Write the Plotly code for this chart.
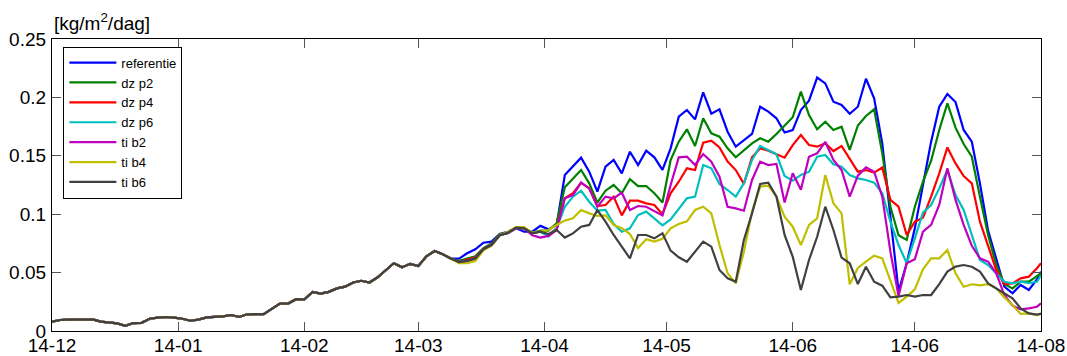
import plotly.graph_objects as go

# ---- x grid (days since 1 Dec) ----
common_days = [0, 2, 4, 6, 8, 10, 12, 14, 16, 18, 20, 22, 24, 26, 28, 30, 32, 34, 36, 38,
               40, 42, 44, 46, 48, 50, 52, 54, 56, 58, 60, 62, 64, 66, 68, 70, 72, 74, 76, 78,
               80, 82, 84, 86, 88, 90, 92, 94, 96, 98]
common = [0.008, 0.0094, 0.0098, 0.010, 0.010, 0.010, 0.008, 0.0075, 0.0065, 0.0045,
          0.0068, 0.0070, 0.0105, 0.0115, 0.012, 0.0115, 0.0105, 0.0088, 0.0098, 0.0117,
          0.012, 0.0125, 0.0137, 0.012, 0.0143, 0.0143, 0.0145, 0.019, 0.0235, 0.0235,
          0.0272, 0.027, 0.0335, 0.032, 0.0335, 0.0365, 0.038, 0.0415, 0.043, 0.0415,
          0.046, 0.052, 0.058, 0.0545, 0.0575, 0.0556, 0.064, 0.0685, 0.0657, 0.062]

days = [100, 102, 104, 106, 108, 110, 112, 114, 116, 118, 120, 122, 124, 126, 128, 130,
        132, 134, 136, 138, 140, 142, 144, 146, 148, 150, 152, 154, 156, 158, 160, 162,
        164, 166, 168, 170, 172, 174, 176, 178, 180, 182, 184, 186, 188, 190, 192, 194,
        196, 198, 200, 202, 204, 206, 208, 210, 212, 214, 216, 218, 220, 222, 224, 226,
        228, 230, 232, 234, 236, 238, 240, 242, 243]

referentie = [0.062, 0.0665, 0.070, 0.0756, 0.0765, 0.083, 0.085, 0.088, 0.085, 0.085, 0.090, 0.087,
              0.0907, 0.1336, 0.1407, 0.1484, 0.1364, 0.1193, 0.1407, 0.1464, 0.135, 0.1535,
              0.1421, 0.1544, 0.1487, 0.138, 0.1564, 0.1835, 0.1892, 0.1812, 0.2043, 0.186,
              0.1898, 0.1706, 0.1578, 0.1635, 0.1687, 0.192, 0.1878, 0.1821, 0.170, 0.172,
              0.1892, 0.1972, 0.217, 0.212, 0.1963, 0.1935, 0.186, 0.192, 0.216, 0.1992,
              0.1607, 0.0979, 0.034, 0.058, 0.0879, 0.125, 0.1621, 0.192, 0.203, 0.196,
              0.1721, 0.1621, 0.1264, 0.0859, 0.0608, 0.0379, 0.0323, 0.0394, 0.0351, 0.0442, 0.0508]
dz_p2 = [0.060, 0.062, 0.064, 0.071, 0.075, 0.083, 0.084, 0.088, 0.088, 0.084, 0.086, 0.0859,
         0.0922, 0.123, 0.130, 0.1378, 0.1264, 0.1099, 0.1201, 0.125, 0.118, 0.130,
         0.1241, 0.1241, 0.1179, 0.110, 0.1464, 0.1621, 0.1727, 0.1584, 0.1821, 0.1693,
         0.1664, 0.1564, 0.1487, 0.155, 0.1607, 0.165, 0.1621, 0.1687, 0.1758, 0.183,
         0.205, 0.1849, 0.1727, 0.1792, 0.1721, 0.1749, 0.155, 0.176, 0.1841, 0.1898,
         0.1521, 0.1064, 0.082, 0.078, 0.1064, 0.1278, 0.1458, 0.1721, 0.195, 0.1741,
         0.1601, 0.1492, 0.115, 0.0822, 0.0565, 0.0402, 0.0365, 0.0422, 0.0422, 0.0465, 0.0494]
dz_p4 = [0.059, 0.061, 0.063, 0.070, 0.074, 0.082, 0.084, 0.088, 0.088, 0.084, 0.085, 0.082,
         0.0879, 0.1136, 0.1179, 0.127, 0.1221, 0.107, 0.1079, 0.115, 0.099, 0.1116,
         0.1116, 0.1093, 0.1079, 0.100, 0.1179, 0.1278, 0.1393, 0.1378, 0.1612, 0.163,
         0.1572, 0.145, 0.1378, 0.126, 0.1487, 0.1564, 0.1544, 0.1513, 0.1484, 0.1592,
         0.1678, 0.1592, 0.1578, 0.1607, 0.1541, 0.1584, 0.147, 0.1364, 0.1378, 0.1356,
         0.140, 0.1122, 0.1064, 0.0822, 0.0936, 0.097, 0.115, 0.135, 0.1572, 0.1435,
         0.1327, 0.1264, 0.0936, 0.0722, 0.0522, 0.0402, 0.0408, 0.0451, 0.0465, 0.0537, 0.058]
dz_p6 = [0.059, 0.060, 0.062, 0.070, 0.0736, 0.082, 0.084, 0.088, 0.088, 0.084, 0.085, 0.081,
         0.0879, 0.1064, 0.115, 0.1201, 0.1107, 0.103, 0.1036, 0.0916, 0.085, 0.0879,
         0.0993, 0.1022, 0.0965, 0.0905, 0.0956, 0.105, 0.1136, 0.115, 0.1421, 0.1393,
         0.1259, 0.1207, 0.115, 0.1264, 0.1464, 0.1584, 0.155, 0.1513, 0.1327, 0.1287,
         0.1336, 0.1364, 0.1492, 0.1507, 0.1427, 0.1407, 0.1336, 0.1307, 0.1293, 0.127,
         0.1179, 0.0936, 0.0736, 0.058, 0.0793, 0.1013, 0.1079, 0.1221, 0.1378, 0.1164,
         0.1036, 0.082, 0.0608, 0.0565, 0.0494, 0.0422, 0.0408, 0.0422, 0.041, 0.0422, 0.0479]
ti_b2 = [0.059, 0.060, 0.062, 0.070, 0.0736, 0.082, 0.084, 0.088, 0.088, 0.082, 0.080, 0.0814,
         0.0865, 0.1136, 0.1164, 0.127, 0.1221, 0.1064, 0.115, 0.1136, 0.1184, 0.1036,
         0.107, 0.1064, 0.103, 0.099, 0.125, 0.1487, 0.1492, 0.1421, 0.1515, 0.145,
         0.1321, 0.1064, 0.105, 0.103, 0.1293, 0.145, 0.1421, 0.143, 0.110, 0.135,
         0.121, 0.1492, 0.1521, 0.162, 0.1464, 0.1378, 0.115, 0.133, 0.1401, 0.1364,
         0.115, 0.0679, 0.030, 0.058, 0.0614, 0.085, 0.0908, 0.1079, 0.1393, 0.1122,
         0.0908, 0.073, 0.0622, 0.0593, 0.0494, 0.0308, 0.0217, 0.0186, 0.0194, 0.0208, 0.0237]
ti_b4 = [0.058, 0.058, 0.060, 0.069, 0.073, 0.082, 0.085, 0.089, 0.089, 0.084, 0.085, 0.0865,
         0.0908, 0.0945, 0.0965, 0.1036, 0.1007, 0.0985, 0.099, 0.0908, 0.088, 0.083,
         0.071, 0.0785, 0.0765, 0.079, 0.0879, 0.0916, 0.0939, 0.1036, 0.1064, 0.1007,
         0.0736, 0.0494, 0.0408, 0.0679, 0.1022, 0.1236, 0.1244, 0.115, 0.0979, 0.0893,
         0.0736, 0.0908, 0.0965, 0.1336, 0.1093, 0.1007, 0.040, 0.054, 0.0593, 0.0645,
         0.0622, 0.0422, 0.024, 0.0294, 0.0357, 0.0528, 0.0622, 0.0622, 0.0693, 0.0494,
         0.0379, 0.040, 0.039, 0.0402, 0.0365, 0.0288, 0.0223, 0.0146, 0.0151, 0.0137, 0.0151]
ti_b6 = [0.059, 0.060, 0.062, 0.070, 0.0736, 0.082, 0.084, 0.0885, 0.088, 0.0836, 0.085, 0.083,
         0.0865, 0.080, 0.0836, 0.0893, 0.0908, 0.1036, 0.0936, 0.0822, 0.0722, 0.0622,
         0.0822, 0.0822, 0.0793, 0.0836, 0.0688, 0.0631, 0.0593, 0.0679, 0.0765, 0.0722,
         0.0522, 0.0451, 0.0422, 0.078, 0.1007, 0.1259, 0.127, 0.115, 0.0822, 0.0636,
         0.0351, 0.0608, 0.0807, 0.1064, 0.0865, 0.0628, 0.058, 0.0402, 0.055, 0.0422,
         0.0388, 0.0288, 0.0294, 0.0308, 0.0294, 0.0308, 0.0308, 0.0402, 0.0508, 0.0551,
         0.0565, 0.055, 0.0508, 0.0408, 0.0365, 0.0328, 0.028, 0.0194, 0.0151, 0.014, 0.0146]

series_names = ["referentie", "dz p2", "dz p4", "dz p6", "ti b2", "ti b4", "ti b6"]
series_values = [referentie, dz_p2, dz_p4, dz_p6, ti_b2, ti_b4, ti_b6]
series_colors = ["#0000FF", "#008000", "#FF0000", "#00BFBF", "#BF00BF", "#BFBF00", "#404040"]

x_tickvals = [0, 31, 62, 90, 121, 151, 182, 212, 243]
x_ticktext = ["14-12", "14-01", "14-02", "14-03", "14-04", "14-05", "14-06", "14-06", "14-08"]
y_tickvals = [0, 0.05, 0.1, 0.15, 0.2, 0.25]
y_ticktext = ["0", "0.05", "0.1", "0.15", "0.2", "0.25"]

FONT = "Liberation Sans, Arial, sans-serif"

fig = go.Figure()
for name, vals, col in zip(series_names, series_values, series_colors):
    fig.add_trace(go.Scatter(
        x=common_days + days, y=common + vals, mode="lines", name=name,
        line=dict(color=col, width=2.2)))

axis_common = dict(showline=True, linecolor="black", linewidth=1.2, mirror="ticks",
                   ticks="inside", ticklen=9, tickcolor="#555555", tickwidth=1,
                   showgrid=False, zeroline=False, automargin=False,
                   tickfont=dict(family=FONT, size=19, color="black"))

fig.update_layout(
    width=1067, height=356,
    margin=dict(l=52, r=26, t=39, b=25, autoexpand=False),
    paper_bgcolor="white", plot_bgcolor="white",
    xaxis=dict(range=[0, 243], tickmode="array", tickvals=x_tickvals, ticktext=x_ticktext,
               ticklabelstandoff=-3, **axis_common),
    yaxis=dict(range=[0, 0.25], tickmode="array", tickvals=y_tickvals, ticktext=y_ticktext,
               ticklabelstandoff=1, **axis_common),
    legend=dict(x=0.0115, y=0.974, xanchor="left", yanchor="top",
                bordercolor="black", borderwidth=1, bgcolor="white",
                font=dict(family=FONT, size=13, color="black"),
                itemwidth=47, tracegroupgap=0),
    showlegend=True,
    annotations=[dict(text="[kg/m<sup>2</sup>/dag]", xref="paper", yref="paper",
                      x=0, y=1, xanchor="left", yanchor="bottom", yshift=3, showarrow=False,
                      font=dict(family=FONT, size=19, color="black"))],
)

fig.write_html("out.html")
